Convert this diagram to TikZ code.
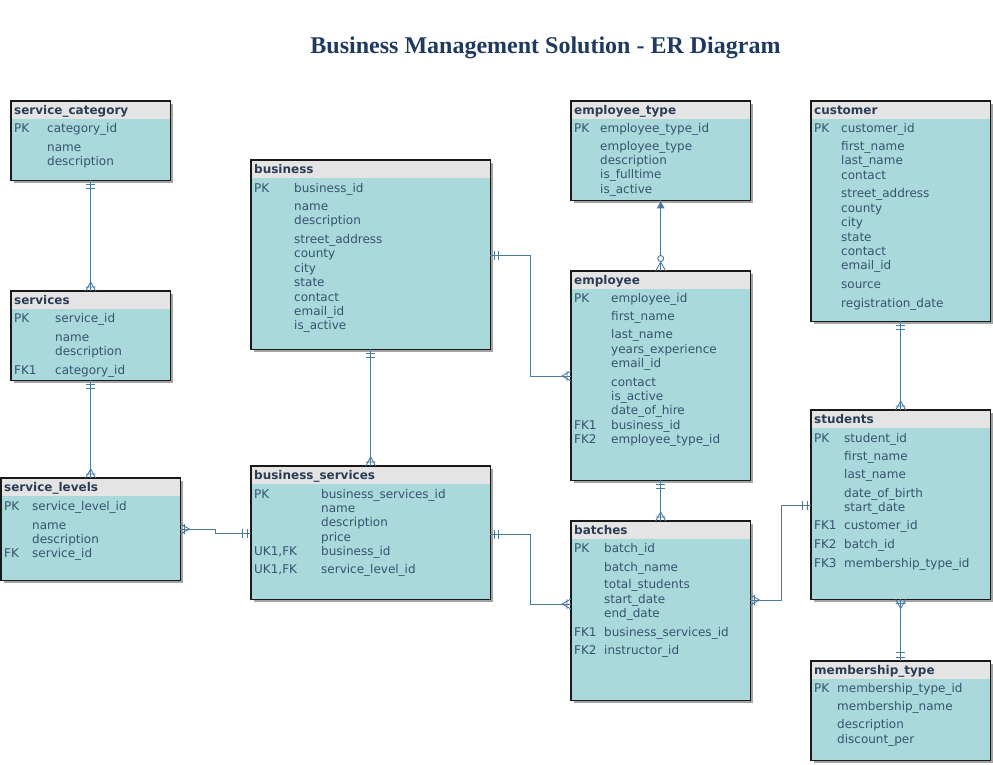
\documentclass[tikz,border=0pt]{standalone}
\usepackage{fontspec}
\setmainfont{DejaVu Sans}
\newfontfamily\headfont{Liberation Serif}
\usetikzlibrary{shadows,decorations.markings}

\definecolor{bodyc}{HTML}{A9D9DB}
\definecolor{hdrc}{HTML}{E4E4E4}
\definecolor{shadc}{HTML}{A4A4A4}
\definecolor{txtc}{HTML}{37536E}
\definecolor{ttlc}{HTML}{2B3D55}
\definecolor{linkc}{HTML}{4D7A9C}
\definecolor{titlec}{HTML}{1F3A5F}

\begin{document}
\begin{tikzpicture}[
  x=1pt, y=-1pt,
  font=\fontsize{12}{14}\selectfont,
  ent/.style={fill=bodyc, anchor=north west, inner sep=0pt,
    drop shadow={shadow xshift=3pt, shadow yshift=-3pt, fill=shadc, opacity=1}},
  ttl/.style={anchor=base west, inner sep=0pt, text=ttlc, font=\fontsize{12}{14}\selectfont\bfseries},
  col/.style={anchor=base west, inner sep=0pt, text=txtc},
  link/.style={draw=linkc, line width=0.9pt},
  oneS/.style={postaction={decorate, decoration={markings, mark=at position 0 with
    {\draw[link] (4,-4.5) -- (4,4.5) (8.5,-4.5) -- (8.5,4.5);}}}},
  oneE/.style={postaction={decorate, decoration={markings, mark=at position 1 with
    {\draw[link] (-4,-4.5) -- (-4,4.5) (-8.5,-4.5) -- (-8.5,4.5);}}}},
  manyS/.style={postaction={decorate, decoration={markings, mark=at position 0 with
    {\draw[link] (0,-5) -- (9,0) -- (0,5) (4,-5) -- (4,5);}}}},
  manyE/.style={postaction={decorate, decoration={markings, mark=at position 1 with
    {\draw[link] (0,-5) -- (-9,0) -- (0,5) (-4,-5) -- (-4,5);}}}},
  zeroManyE/.style={postaction={decorate, decoration={markings, mark=at position 1 with
    {\draw[link] (0,-5) -- (-9,0) -- (0,5); \draw[link, fill=white] (-12.5,0) circle (3pt);}}}},
  tipS/.style={postaction={decorate, decoration={markings, mark=at position 0 with
    {\fill[linkc] (1,0) -- (8,-4) -- (8,4) -- cycle;}}}},
]
  \useasboundingbox (0,0) rectangle (993,764);

  \node[anchor=base, text=titlec, font=\headfont\fontsize{24}{28}\selectfont\bfseries] (title)
    at (545.5,53) {Business Management Solution - ER Diagram};

  % entity boxes: name/left/top/width/height/title
  \foreach \nm/\x/\y/\w/\h/\t in {%
      scat/11/101/159/79/service\_category, svc/11/291/159/89/services,
      svl/1/478/179/102/service\_levels, bus/251/160/239/189/business,
      bsvc/251/466/239/133/business\_services, etype/571/101/179/99/employee\_type,
      emp/571/271/179/209/employee, bat/571/521/179/179/batches,
      cust/811/101/179/220/customer, stud/811/410/179/189/students,
      mem/811/661/179/99/membership\_type}
  {
    \node[ent, minimum width=\w pt, minimum height=\h pt] (\nm) at (\x,\y) {};
    \fill[hdrc] (\nm.north west) rectangle ([yshift=-18pt]\nm.north east);
    \draw[line width=1.2pt, black!90] (\nm.north west) rectangle (\nm.south east);
    \node[ttl] at (\x+3,\y+13) {\t};
  }

  % columns: key x/field x/{key/field/baseline}
  \foreach \kx/\fx/\rows in {%
      14/47/{PK/category\_id/132, /name/151, /description/165},
      14/55/{PK/service\_id/322, /name/341, /description/355, FK1/category\_id/374},
      4/32/{PK/service\_level\_id/510, /name/529, /description/543, FK/service\_id/557},
      254/294/{PK/business\_id/192, /name/210, /description/224, /street\_address/243,
        /county/257, /city/272, /state/286, /contact/301, /email\_id/315, /is\_active/329},
      254/321/{PK/business\_services\_id/498, /name/512, /description/526, /price/541,
        {UK1,FK}/business\_id/555, {UK1,FK}/service\_level\_id/573},
      574/600/{PK/employee\_type\_id/132, /employee\_type/150, /description/164,
        /is\_fulltime/178, /is\_active/193},
      574/611/{PK/employee\_id/302, /first\_name/320, /last\_name/338, /years\_experience/353,
        /email\_id/367, /contact/386, /is\_active/400, /date\_of\_hire/414,
        FK1/business\_id/429, FK2/employee\_type\_id/443},
      574/604/{PK/batch\_id/552, /batch\_name/571, /total\_students/588, /start\_date/603,
        /end\_date/617, FK1/business\_services\_id/636, FK2/instructor\_id/654},
      814/841/{PK/customer\_id/132, /first\_name/150, /last\_name/164, /contact/179,
        /street\_address/197, /county/212, /city/226, /state/241, /contact/255,
        /email\_id/269, /source/288, /registration\_date/307},
      814/844/{PK/student\_id/442, /first\_name/460, /last\_name/478, /date\_of\_birth/497,
        /start\_date/511, FK1/customer\_id/529, FK2/batch\_id/548, FK3/membership\_type\_id/567},
      814/837/{PK/membership\_type\_id/692, /membership\_name/710, /description/728,
        /discount\_per/743}}
    \foreach \k/\f/\b in \rows {
      \node[col] at (\kx,\b) {\k};
      \node[col] at (\fx,\b) {\f};
    }

  % relationships
  \draw[link, oneS, manyE] (scat) -- (svc);
  \draw[link, oneS, manyE] (svc) -- (svl);
  \draw[link, oneS, manyE] (bus) -- (bsvc);
  \draw[link, tipS, zeroManyE] (etype) -- (emp);
  \draw[link, oneS, manyE] (emp) -- (bat);
  \draw[link, oneS, manyE] (cust) -- (stud);
  \draw[link, manyS, oneE] (stud) -- (mem);
  \draw[link, manyS, oneE] ([yshift=-51pt]svl.north east) -- ++(35,0) |- ([yshift=-67pt]bsvc.north west);
  \draw[link, oneS, manyE] ([yshift=-95pt]bus.north east) -- ++(40,0) |- ([yshift=-105pt]emp.north west);
  \draw[link, oneS, manyE] ([yshift=-68pt]bsvc.north east) -- ++(40,0) |- ([yshift=-83pt]bat.north west);
  \draw[link, manyS, oneE] ([yshift=-79pt]bat.north east) -- ++(31,0) |- ([yshift=-95pt]stud.north west);
\end{tikzpicture}
\end{document}
